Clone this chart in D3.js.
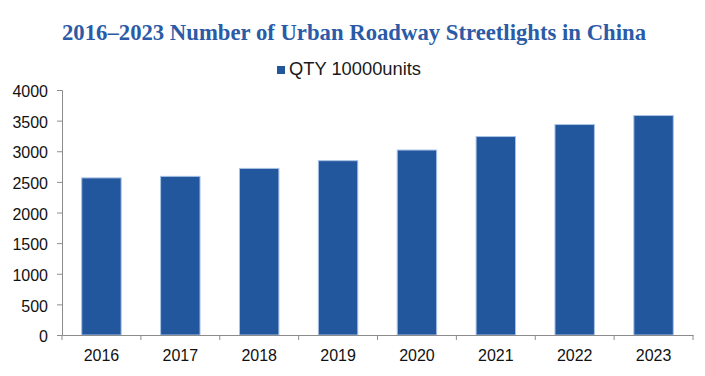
<!DOCTYPE html>
<html>
<head>
<meta charset="utf-8">
<script src="https://cdn.jsdelivr.net/npm/d3@7"></script>
<style>
  body { margin: 0; background: #fff; }
  text { font-family: Arial, "Liberation Sans", sans-serif; }
</style>
</head>
<body>
<div id="chart"></div>
<script>
// Streetlight counts (10000 units)
const years = ['2016', '2017', '2018', '2019', '2020', '2021', '2022', '2023'];
const qty = [2565, 2590, 2720, 2846, 3020, 3240, 3436, 3583];
const yTicks = [0, 500, 1000, 1500, 2000, 2500, 3000, 3500, 4000];
const seriesName = 'QTY 10000units';
const chartTitle = '2016\u20132023 Number of Urban Roadway Streetlights in China';

const width = 705;
const height = 376;
const margin = { top: 90, right: 12, bottom: 41, left: 62 };

const svg = d3.select('#chart').append('svg')
  .attr('width', width)
  .attr('height', height);

// Scales
const x = d3.scaleBand()
  .domain(years)
  .range([margin.left, width - margin.right])
  .paddingInner(0.5)
  .paddingOuter(0.25);

const y = d3.scaleLinear()
  .domain([0, 4000])
  .range([height - margin.bottom, margin.top]);

// Title
svg.append('text')
  .attr('x', 62)
  .attr('y', 40)
  .attr('textLength', 584)
  .attr('lengthAdjust', 'spacingAndGlyphs')
  .style('font-family', '"Liberation Serif", "Times New Roman", serif')
  .style('font-weight', 'bold')
  .style('font-size', '23.5px')
  .style('fill', '#2b5ba6')
  .text(chartTitle);

// Legend
const legend = svg.append('g').attr('transform', 'translate(277, 66)');
legend.append('rect')
  .attr('width', 8)
  .attr('height', 8)
  .style('fill', '#22579d');
legend.append('text')
  .attr('x', 12)
  .attr('y', 8.5)
  .attr('textLength', 132)
  .attr('lengthAdjust', 'spacingAndGlyphs')
  .style('font-size', '18px')
  .style('fill', '#1a1a1a')
  .text(seriesName);

// Bars
svg.selectAll('.bar')
  .data(years)
  .enter().append('rect')
  .attr('class', 'bar')
  .attr('x', d => x(d))
  .attr('y', (d, i) => y(qty[i]))
  .attr('width', x.bandwidth())
  .attr('height', (d, i) => y(0) - y(qty[i]))
  .style('fill', '#22579d')
  .style('stroke', '#a9c2e6')
  .style('stroke-width', 1);

// Y axis
const yAxis = svg.append('g')
  .attr('transform', `translate(${margin.left},0)`)
  .call(d3.axisLeft(y).tickValues(yTicks).tickSize(5).tickPadding(9).tickFormat(d3.format('d')));
yAxis.select('.domain').attr('stroke', '#8c8c8c');
yAxis.selectAll('.tick line').attr('stroke', '#8c8c8c');
yAxis.selectAll('text')
  .style('font-size', '16px')
  .style('fill', '#111')
  .attr('dy', '0.42em')
  .attr('font-family', null);

// X axis, ticks sit between the categories
const xAxis = svg.append('g')
  .attr('transform', `translate(0,${y(0)})`)
  .call(d3.axisBottom(x).tickSize(0).tickPadding(15));
xAxis.select('.domain').attr('stroke', '#8c8c8c');
xAxis.selectAll('text')
  .style('font-size', '16px')
  .style('fill', '#111')
  .attr('font-family', null);

const edges = years.map(d => x(d) - x.step() * x.paddingInner() / 2).concat([width - margin.right]);
svg.append('g').selectAll('line')
  .data(edges)
  .enter().append('line')
  .attr('x1', d => d)
  .attr('x2', d => d)
  .attr('y1', y(0))
  .attr('y2', y(0) + 5)
  .attr('stroke', '#8c8c8c');
</script>
</body>
</html>
